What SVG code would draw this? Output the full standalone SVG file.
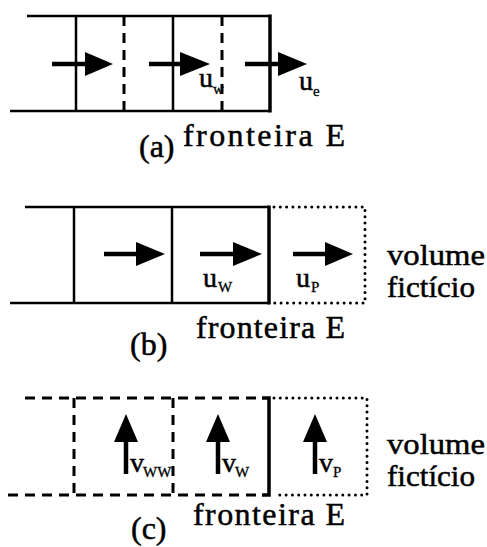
<svg xmlns="http://www.w3.org/2000/svg" width="487" height="547" viewBox="0 0 487 547">
  <style>
    .wall { fill: none; stroke: #000; stroke-width: 2.5; }
    .bound { fill: none; stroke: #000; stroke-width: 3.5; }
    .dash { fill: none; stroke: #000; stroke-width: 3; stroke-dasharray: 10 7; }
    .dot { fill: none; stroke: #000; stroke-width: 3; stroke-dasharray: 0 6.3; stroke-linecap: round; }
    .shaft { fill: none; stroke: #000; stroke-width: 4.5; }
    .head { fill: #000; }
    text { font-family: "Liberation Serif", "Times New Roman", serif; fill: #000; stroke: #000; stroke-width: 0.5; }
    .lbl { font-size: 32px; }
    .side { font-size: 30px; }
    .sym { font-size: 28px; }
    .sub { font-size: 15px; stroke-width: 0.3; }
  </style>
  <rect width="487" height="547" fill="#fff"/>

  <!-- (a) staggered grid, east boundary -->
  <g id="panel-a">
    <path class="wall" d="M27,16 H270 M10,111 H270 M76,16 V111 M173,16 V111"/>
    <path class="bound" d="M270,14.5 V112.5"/>
    <path class="dash" d="M124,16 V111 M222,16 V111"/>
    <g id="a-arrows">
      <path class="shaft" d="M52,64 H88 M149,64 H182 M245,64 H281"/>
      <polygon class="head" points="85,52 113,64 85,76"/>
      <polygon class="head" points="180,52 210,64 180,76"/>
      <polygon class="head" points="278,52 307,64 278,76"/>
    </g>
    <text class="sym" x="199" y="87">u</text>
    <text class="sub" x="213" y="94">w</text>
    <text class="sym" x="299" y="90">u</text>
    <text class="sub" x="313" y="96">e</text>
    <text class="lbl" x="139" y="157">(a)</text>
    <text class="lbl" x="183" y="146" textLength="162" lengthAdjust="spacing">fronteira E</text>
  </g>

  <!-- (b) u-velocity with fictitious volume -->
  <g id="panel-b">
    <path class="wall" d="M25,207 H269 M10,303 H269 M74,207 V303 M172,207 V303"/>
    <path class="bound" d="M269,205.5 V304.5"/>
    <path class="dot" d="M274,207 H365 V303 H274"/>
    <g id="b-arrows">
      <path class="shaft" d="M104,254 H140 M200,254 H236 M293,254 H328"/>
      <polygon class="head" points="136,242 165,254 136,266"/>
      <polygon class="head" points="233,242 262,254 233,266"/>
      <polygon class="head" points="325,242 353,254 325,266"/>
    </g>
    <text class="sym" x="203" y="287">u</text>
    <text class="sub" x="218" y="292">W</text>
    <text class="sym" x="296" y="287">u</text>
    <text class="sub" x="311" y="292">P</text>
    <text class="side" x="387" y="265" textLength="98" lengthAdjust="spacingAndGlyphs">volume</text>
    <text class="side" x="387" y="297" textLength="88" lengthAdjust="spacingAndGlyphs">fictício</text>
    <text class="lbl" x="130" y="355">(b)</text>
    <text class="lbl" x="196" y="338" textLength="149" lengthAdjust="spacing">fronteira E</text>
  </g>

  <!-- (c) v-velocity with fictitious volume -->
  <g id="panel-c">
    <path class="dash" d="M25,398 H262 M8,495 H262 M74,398 V495 M173,398 V495"/>
    <path class="bound" d="M262,398 H269 V495 H262"/>
    <path class="dot" d="M274,398 H367 V495 H274"/>
    <g id="c-arrows">
      <path class="shaft" d="M126,474 V438 M218,474 V438 M315,474 V438"/>
      <polygon class="head" points="114,442 126,414 138,442"/>
      <polygon class="head" points="206,442 218,414 230,442"/>
      <polygon class="head" points="303,442 315,414 327,442"/>
    </g>
    <text class="sym" x="130" y="472">v</text>
    <text class="sub" x="143" y="477">WW</text>
    <text class="sym" x="222" y="472">v</text>
    <text class="sub" x="235" y="477">W</text>
    <text class="sym" x="319" y="472">v</text>
    <text class="sub" x="333" y="477">P</text>
    <text class="side" x="387" y="454" textLength="98" lengthAdjust="spacingAndGlyphs">volume</text>
    <text class="side" x="387" y="486" textLength="88" lengthAdjust="spacingAndGlyphs">fictício</text>
    <text class="lbl" x="131" y="539">(c)</text>
    <text class="lbl" x="193" y="525" textLength="152" lengthAdjust="spacing">fronteira E</text>
  </g>
</svg>
